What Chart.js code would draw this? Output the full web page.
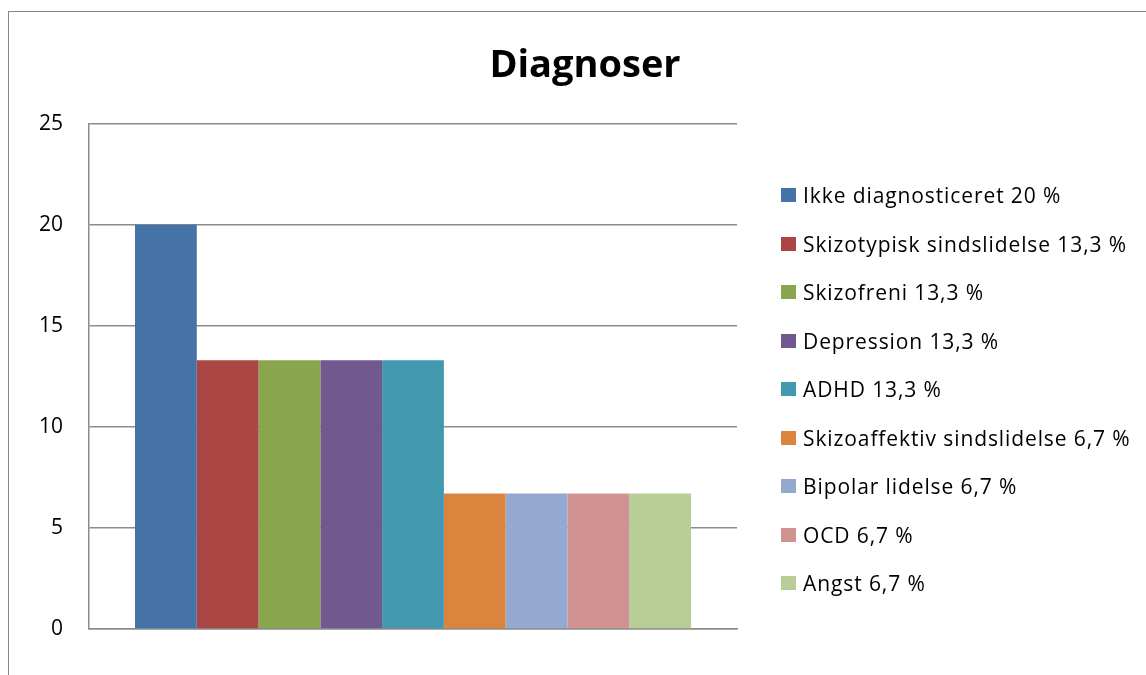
<!DOCTYPE html>
<html>
<head>
<meta charset="utf-8">
<script src="https://cdn.jsdelivr.net/npm/chart.js@4"></script>
<style>
  html, body { margin: 0; padding: 0; background: #fff; overflow: hidden; }
  #ramme {
    position: absolute; left: 8px; top: 11px;
    width: 1160px; height: 720px;
    border: 1px solid #878787;
  }
  #graf { display: block; }
  #forklaring {
    position: absolute; left: 781px; top: 171px;
    font-family: "Open Sans", sans-serif; font-size: 21px; letter-spacing: 0.9px; color: #000;
  }
  .raekke { height: 48.5px; display: flex; align-items: center; white-space: nowrap; }
  .kasse { width: 15px; height: 14px; margin-right: 7px; flex: none; }
</style>
</head>
<body>
<div id="ramme"><canvas id="graf" width="1153" height="690"></canvas></div>
<div id="forklaring"></div>
<script>
// data
const kategorier = [''];
const serieNavne = [
  'Ikke diagnosticeret 20 %',
  'Skizotypisk sindslidelse 13,3 %',
  'Skizofreni 13,3 %',
  'Depression 13,3 %',
  'ADHD 13,3 %',
  'Skizoaffektiv sindslidelse 6,7 %',
  'Bipolar lidelse 6,7 %',
  'OCD 6,7 %',
  'Angst 6,7 %'
];
const serieVaerdier = [20, 13.3, 13.3, 13.3, 13.3, 6.7, 6.7, 6.7, 6.7];
const serieFarver = ['#4572A7', '#AA4643', '#89A54E', '#71588F', '#4198AF', '#DB843D', '#93A9CF', '#D19392', '#B9CD96'];
const yMin = 0, yMax = 25, yTrin = 5;

const FONT = '"Open Sans", sans-serif';
const GRAA = '#8c8c8c';

const datasets = serieNavne.map((navn, i) => ({
  label: navn,
  data: [serieVaerdier[i]],
  backgroundColor: serieFarver[i],
  borderWidth: 0,
  categoryPercentage: 0.858,
  barPercentage: 1.0
}));

const graf = new Chart(document.getElementById('graf'), {
  type: 'bar',
  data: { labels: kategorier, datasets: datasets },
  options: {
    responsive: false,
    animation: false,
    devicePixelRatio: 1,
    layout: { padding: { left: 0, right: 1, top: 0, bottom: 73 } },
    plugins: {
      title: {
        display: true,
        text: 'Diagnoser',
        color: '#000',
        font: { family: FONT, size: 38, weight: 'bold' },
        padding: { top: 31, bottom: 35 }
      },
      legend: { display: false },
      tooltip: { enabled: false }
    },
    scales: {
      x: {
        grid: { display: false, drawTicks: false },
        border: { display: true, color: GRAA, width: 1.5 },
        ticks: { display: false },
        afterFit: s => { s.height = 0; }
      },
      y: {
        min: yMin,
        max: yMax,
        grid: { color: GRAA, lineWidth: 1.5, drawTicks: false },
        border: { display: true, color: GRAA, width: 1.5 },
        ticks: {
          stepSize: yTrin,
          padding: 26,
          color: '#000',
          font: { family: FONT, size: 21 }
        },
        afterFit: s => { s.width = 80; }
      },
      // tom plads til forklaringen til højre
      plads: {
        position: 'right',
        grid: { display: false, drawTicks: false },
        border: { display: false },
        ticks: { display: false },
        afterFit: s => { s.width = 424; }
      }
    }
  }
});

// forklaring bygget ud fra grafens egne dataserier
const boks = document.getElementById('forklaring');
Chart.defaults.plugins.legend.labels.generateLabels(graf).forEach(item => {
  const r = document.createElement('div');
  r.className = 'raekke';
  const k = document.createElement('span');
  k.className = 'kasse';
  k.style.background = item.fillStyle;
  const t = document.createElement('span');
  t.textContent = item.text;
  r.appendChild(k);
  r.appendChild(t);
  boks.appendChild(r);
});
</script>
</body>
</html>
